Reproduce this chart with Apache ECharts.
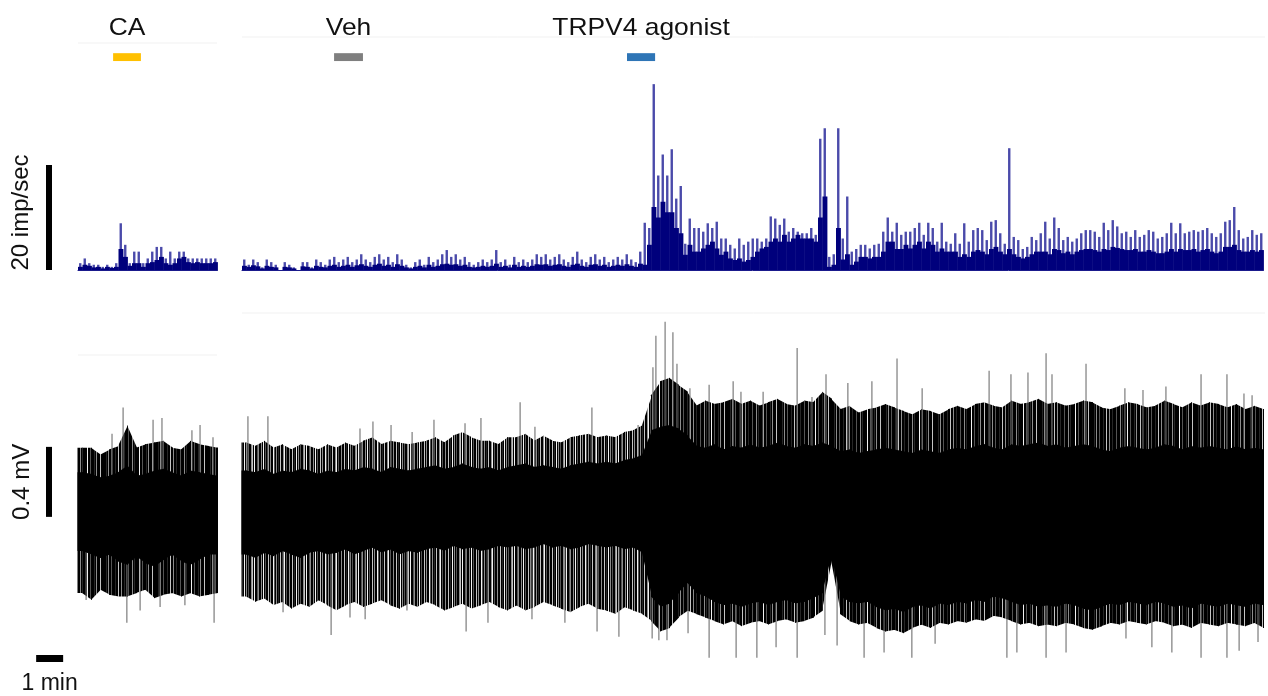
<!DOCTYPE html>
<html><head><meta charset="utf-8">
<script src="https://cdn.jsdelivr.net/npm/echarts@6/dist/echarts.min.js"></script>
<style>html,body{margin:0;padding:0;background:#fff}#c{width:1268px;height:696px}</style>
</head><body><div id="c"></div>
<script>
// ---------- time bins (minutes) ----------
const RATE_BIN = 1/6;   // 10 s bins of the firing-rate histogram
const VOLT_BIN = 1/3;   // 20 s bins of the voltage envelope

// ---------- firing rate (imp/sec), left panel (CA) ----------
const rateTipsL = [1.3,2.2,1.3,1,1,0.6,1,0.6,1.3,8.9,4.8,1.3,3.5,3.5,1.3,2.2,3.5,4.4,4.4,2.2,3.5,2.2,3.5,3.5,2.2,2.2,2.2,2.2,2.2,2.2,2.2];
const rateCoreL = [0.6,1,0.8,0.5,0.6,0.3,0.6,0.4,0.6,4,2.5,0.8,1.3,1.3,0.6,1.3,1.5,1.9,2.5,1.3,1,1.3,2.2,2.5,1.5,1.3,1.5,1.3,1.3,1.3,1.5];

// ---------- firing rate (imp/sec), right panel (Veh, TRPV4 agonist) ----------
const rateTipsR = [
 2,1,2,1.5,0.5,2,1.5,1, 0,1.5,1,0.5,0,1.5, 1.5,0.5,2,1.5, 1,2,2.5,1.5,2,2.5,1.5,2,3,2,1.5,
 2.5,3,2,2.5,1.5,3,2,1,0.5, 1.5,2,1,2.5,1.5,2,3,3.8, 2.5,3,2,2.5,1.5, 1,1.5,2,1.5,2,3.8,
 1.5,2,1,2.5,1.5,2,1.5,2,3, 2.5,3,2,2.5,3,2,1.5,2.5,3.5, 2,1.5,2.5,3,2,2.5,1.5,2, 2.5,2,3,2,1.5,3.5,
 9,8,35.4,18,22,18,23,13.6,16,5,9.8,8,8,7.3,8.9,8,9.2,6,6,4.8,4.1,6,4.8,5.4,6,6,5.4,6,10.2,9.8,8.6,9.8,
 7.3,8,7.3,7,7,8,6.7,25,27,2.5,3,27,6,14,3.5,4,4.8,4.8,4.1,4.8,5,7.3,10,7.3,9,6.7,7.3,7.3,8,9,6.7,9,8,5.4,9,5.4,5,7,
 5,8.9,5.4,7.6,8,7.6,5.7,9.2,9.5,7,5,23.2,6.3,5.7,4,4.4,6.3,5.7,7,9.2,6,10,8,5.7,6.3,5.4,6,7,7.6,7.6,7.3,6.3,9,7.6,
 9.5,8.3,7,7.3,6.3,7.6,6.3,6.7,7.6,7.3,6,6.3,7,9,7,8.9,7,7.3,7.6,7.3,7.6,8,7,6.3,7,9.2,9.5,12,7.6,6,6.3,7.6,6.7,7
];
const rateCoreR = [
 0.8,0.6,0.9,0.7,0.3,0.8,0.6,0.5, 0,0.6,0.5,0.3,0,0.7, 0.6,0.3,0.8,0.6, 0.5,0.8,1,0.6,0.8,1,0.6,0.9,1.1,0.8,0.6,
 1,1.2,0.8,1,0.6,1.1,0.8,0.5,0.3, 0.6,0.8,0.5,1,0.6,0.8,1.1,1.2, 1,1.1,0.8,1,0.6, 0.5,0.6,0.8,0.6,0.8,1.2,
 0.6,0.8,0.5,1,0.6,0.8,0.6,0.8,1.1, 1,1.1,0.8,1,1.1,0.8,0.6,1,1.2, 0.8,0.6,1,1.1,0.8,1,0.6,0.8, 1,0.8,1.1,0.8,0.6,1.2,
 1,4.8,12,10,13,11,11,8,7,2.9,4.8,3.5,3.5,4.1,4.8,5.4,4.1,2.9,3.5,2.2,1.9,2.2,1.6,1.9,2.5,3.5,4.1,4.4,5.4,6,5.4,6.7,
 5.4,6,6.7,6,6,6,5.4,10,14,0.6,1,8,2,3,1,1.6,2.5,2.5,2.2,2.5,2.5,3.5,5.4,5.4,4,4,4.8,4.1,4.8,5.4,4.1,5.4,4.8,3.5,4.1,3.5,3.5,3.5,
 2.5,3,2.5,3.5,3.8,3.5,3,4,4.4,3.5,3,4,3,2.5,2.2,2.5,3,3.5,3.5,3.5,3,4,3.8,3.2,3.5,3,3.5,3.8,4,4,3.8,3.5,4,3.8,
 4.4,4.2,4,3.8,3.8,4,3.5,3.5,3.8,3.5,3.2,3.2,3.5,4,3.5,4,3.8,3.8,4,3.5,3.8,4,3.5,3.2,3.5,4.4,4.4,4.8,3.8,3.5,3.5,3.8,3.5,3.8
];

// ---------- voltage envelope (mV), left panel ----------
const fuzzTopL = [0.33,0.33,0.29,0.32,0.34,0.46,0.33,0.35,0.36,0.37,0.33,0.32,0.37,0.35,0.34,0.33];
const coreTopL = [0.19,0.18,0.16,0.17,0.19,0.23,0.17,0.18,0.20,0.21,0.19,0.17,0.20,0.19,0.18,0.17];
const coreBotL = [-0.26,-0.28,-0.30,-0.28,-0.32,-0.34,-0.29,-0.33,-0.35,-0.31,-0.28,-0.32,-0.34,-0.31,-0.28,-0.28];
const fuzzBotL = [-0.50,-0.54,-0.48,-0.51,-0.52,-0.52,-0.50,-0.48,-0.53,-0.51,-0.50,-0.52,-0.50,-0.52,-0.51,-0.50];

// ---------- voltage envelope (mV), right panel ----------
const fuzzTopR = [
 0.36,0.34,0.37,0.33,0.35,0.32,0.35,0.34,0.32,0.35, 0.33,0.36,0.34,0.37,0.39,0.35,0.37,0.36,0.35,0.36,
 0.37,0.39,0.36,0.40,0.42,0.39,0.37,0.37,0.35,0.39, 0.39,0.41,0.37,0.40,0.37,0.36,0.39,0.40,0.41,0.39,
 0.40,0.39,0.42,0.43,0.46,0.63,0.71,0.73,0.69,0.65, 0.57,0.60,0.58,0.59,0.61,0.58,0.60,0.57,0.59,0.61,
 0.58,0.57,0.60,0.59,0.65,0.61,0.55,0.57,0.53,0.55, 0.56,0.58,0.56,0.54,0.52,0.55,0.54,0.52,0.55,0.57,
 0.55,0.58,0.59,0.57,0.56,0.60,0.58,0.59,0.61,0.58, 0.59,0.57,0.58,0.60,0.59,0.56,0.55,0.57,0.59,0.58,
 0.56,0.57,0.60,0.58,0.56,0.59,0.57,0.59,0.58,0.56, 0.58,0.55,0.57,0.55
];
const coreTopR = [
 0.20,0.19,0.21,0.18,0.20,0.19,0.21,0.20,0.18,0.20, 0.19,0.21,0.20,0.22,0.21,0.19,0.22,0.21,0.20,0.21,
 0.22,0.23,0.21,0.22,0.24,0.22,0.21,0.22,0.20,0.22, 0.23,0.24,0.22,0.23,0.22,0.21,0.23,0.24,0.25,0.24,
 0.25,0.24,0.26,0.27,0.29,0.43,0.45,0.46,0.44,0.40, 0.34,0.33,0.35,0.32,0.34,0.33,0.35,0.33,0.34,0.36,
 0.34,0.33,0.35,0.34,0.36,0.34,0.31,0.32,0.30,0.31, 0.32,0.33,0.32,0.31,0.30,0.32,0.31,0.30,0.32,0.33,
 0.32,0.34,0.35,0.33,0.32,0.35,0.34,0.35,0.36,0.34, 0.35,0.33,0.34,0.35,0.34,0.32,0.31,0.33,0.34,0.33,
 0.32,0.33,0.35,0.34,0.32,0.34,0.33,0.34,0.33,0.32, 0.34,0.32,0.33,0.32
];
const coreBotR = [
 -0.28,-0.30,-0.27,-0.29,-0.26,-0.28,-0.30,-0.27,-0.26,-0.28, -0.27,-0.25,-0.28,-0.26,-0.24,-0.27,-0.25,-0.28,-0.26,-0.27,
 -0.25,-0.24,-0.26,-0.23,-0.25,-0.24,-0.26,-0.25,-0.23,-0.24, -0.23,-0.25,-0.24,-0.22,-0.24,-0.23,-0.25,-0.24,-0.22,-0.23,
 -0.24,-0.23,-0.25,-0.24,-0.27,-0.52,-0.58,-0.56,-0.50,-0.44, -0.50,-0.52,-0.55,-0.57,-0.56,-0.58,-0.56,-0.55,-0.57,-0.55,
 -0.54,-0.56,-0.55,-0.53,-0.50,-0.28,-0.52,-0.55,-0.56,-0.55, -0.58,-0.60,-0.59,-0.61,-0.58,-0.57,-0.59,-0.56,-0.57,-0.55,
 -0.56,-0.54,-0.55,-0.52,-0.53,-0.55,-0.57,-0.56,-0.58,-0.57, -0.58,-0.56,-0.57,-0.59,-0.60,-0.58,-0.56,-0.57,-0.55,-0.56,
 -0.57,-0.55,-0.56,-0.58,-0.57,-0.59,-0.56,-0.57,-0.58,-0.56, -0.57,-0.58,-0.56,-0.57
];
const fuzzBotR = [
 -0.52,-0.55,-0.53,-0.57,-0.55,-0.59,-0.56,-0.58,-0.54,-0.57, -0.60,-0.57,-0.55,-0.58,-0.56,-0.54,-0.57,-0.59,-0.56,-0.58,
 -0.55,-0.57,-0.60,-0.58,-0.56,-0.59,-0.57,-0.55,-0.58,-0.60, -0.57,-0.60,-0.58,-0.55,-0.57,-0.59,-0.61,-0.58,-0.56,-0.59,
 -0.60,-0.62,-0.58,-0.60,-0.62,-0.66,-0.72,-0.70,-0.64,-0.60, -0.62,-0.64,-0.66,-0.68,-0.66,-0.69,-0.67,-0.66,-0.68,-0.66,
 -0.65,-0.67,-0.66,-0.64,-0.60,-0.31,-0.62,-0.66,-0.68,-0.67, -0.70,-0.72,-0.71,-0.73,-0.70,-0.68,-0.70,-0.67,-0.68,-0.66,
 -0.67,-0.65,-0.66,-0.63,-0.64,-0.66,-0.68,-0.67,-0.69,-0.68, -0.69,-0.67,-0.68,-0.70,-0.71,-0.69,-0.67,-0.68,-0.66,-0.67,
 -0.68,-0.66,-0.67,-0.69,-0.68,-0.70,-0.67,-0.68,-0.69,-0.67, -0.68,-0.69,-0.67,-0.70
];

// ---------- isolated large spikes [minute, mV] ----------
const spikesL = [[1.67,0.56],[1.26,0.41],[2.78,0.49],[3.11,0.50],[4.52,0.46],[4.22,0.43],[5.0,0.39],
 [1.81,-0.67],[5.04,-0.67],[0.30,-0.54],[2.30,-0.60],[3.04,-0.58],[3.96,-0.57]];
const spikesR = [[0.22,0.51],[0.96,0.51],[4.37,0.44],[4.85,0.48],[5.52,0.46],[6.30,0.42],[7.11,0.49],[8.26,0.47],
 [8.85,0.50],[10.30,0.59],[10.85,0.45],[12.96,0.56],[14.67,0.46],[15.22,0.79],[15.33,0.97],[15.67,1.05],[15.96,0.99],
 [16.11,0.81],[16.59,0.67],[17.30,0.69],[18.19,0.71],[18.48,0.65],[19.30,0.65],[20.56,0.90],[21.11,0.62],[21.63,0.75],
 [22.44,0.70],[23.33,0.71],[24.26,0.84],[25.19,0.67],[27.67,0.77],[28.48,0.75],[29.11,0.76],[29.78,0.87],[30.00,0.75],
 [31.26,0.81],[32.70,0.67],[33.37,0.66],[34.22,0.68],[35.52,0.75],[36.48,0.75],[37.11,0.64],[37.41,0.63],
 [1.52,-0.61],[3.30,-0.74],[4.00,-0.64],[4.56,-0.65],[6.11,-0.60],[8.30,-0.72],[9.11,-0.67],[10.74,-0.65],[11.96,-0.67],
 [13.15,-0.72],[13.96,-0.75],[15.19,-0.76],[15.44,-0.77],[15.74,-0.77],[16.52,-0.73],[17.30,-0.87],[18.30,-0.87],
 [19.07,-0.87],[19.78,-0.81],[20.56,-0.87],[21.59,-0.74],[22.04,-0.80],[23.04,-0.87],[23.78,-0.84],[24.81,-0.87],
 [25.67,-0.79],[28.33,-0.87],[28.70,-0.84],[29.78,-0.87],[30.52,-0.84],[32.74,-0.76],[33.70,-0.81],[34.44,-0.84],
 [35.52,-0.87],[36.48,-0.87],[36.93,-0.83],[37.63,-0.78]];

// ---------- treatments ----------
const treatLabels = ['CA','Veh','TRPV4 agonist'];
const treatPanel  = [0,1,1];
const treatStart  = [1.30,3.41,14.26];
const treatEnd    = [2.33,4.48,15.30];

// ---------- scale bars ----------
const SCALE_RATE = 20;   // imp/sec
const SCALE_MV = 0.4;    // mV
const SCALE_MIN = 1;     // min

// ================= build =================
const FONT = '"Liberation Sans", Arial, sans-serif';
const treatColors = ['#FFC000','#7F7F7F','#2E75B6'];
const totalL = rateTipsL.length * RATE_BIN;
const totalR = rateTipsR.length * RATE_BIN;

// striped textures imitating the dense trace lines (style only)
function stripePattern(code){
  const pal = {k:'#000', d:'#262626', m:'#555', g:'#8c8c8c', l:'#c4c4c4', w:'#f2f2f2'};
  const c = document.createElement('canvas'); c.width = code.length; c.height = 2;
  const g = c.getContext('2d');
  for(let i=0;i<code.length;i++){ g.fillStyle = pal[code[i]]; g.fillRect(i,0,1,2); }
  return {image:c, repeat:'repeat'};
}
const fuzzDark  = stripePattern('kkdkgkkmkkkdkklkkgkkdkkkmkkkgkdkkkkwkkmkkkdkgkkklkkk');
const fuzzLight = stripePattern('kgkwkmkklkgkkwmkgkdklkkgwkmkkgkklkdkwkgkmkkglkwkkmgk');

function rateData(tips, core){ return tips.map((v,i)=>[i, v, core[i]]); }
function rateItem(params, api){
  const i = api.value(0), tip = api.value(1), core = api.value(2);
  const t0 = i*RATE_BIN, t1 = (i+1)*RATE_BIN;
  const b0 = api.coord([t0,0]), b1 = api.coord([t1,0]);
  const pt = api.coord([(t0+t1)/2, tip]);
  const pc = api.coord([t0, core]);
  return {type:'group', children:[
    {type:'rect', shape:{x:pt[0]-1.2, y:pt[1], width:2.4, height:b0[1]-pt[1]}, style:{fill:'#4a4aaa'}},
    {type:'rect', shape:{x:b0[0], y:pc[1], width:b1[0]-b0[0]+0.4, height:b0[1]-pc[1]}, style:{fill:'#00007c'}}
  ]};
}
function bandData(top, bot, total){
  const ts=[0], tv=[top[0]], bv=[bot[0]];
  for(let i=0;i<top.length;i++){ ts.push(Math.min((i+0.5)*VOLT_BIN,total)); tv.push(top[i]); bv.push(bot[i]); }
  ts.push(total); tv.push(top[top.length-1]); bv.push(bot[bot.length-1]);
  const out=[];
  for(let k=0;k<ts.length-1;k++) out.push([ts[k],ts[k+1],tv[k],tv[k+1],bv[k],bv[k+1]]);
  return out;
}
function bandItem(kind){
  return function(params, api){
    const t0 = api.value(0), t1 = api.value(1);
    const a = api.coord([t0, api.value(2)]);
    const b = api.coord([t1, api.value(3)]);
    const c = api.coord([t1, api.value(5)]);
    const d = api.coord([t0, api.value(4)]);
    a[0]-=0.5; d[0]-=0.5; b[0]+=0.5; c[0]+=0.5;
    let fill = '#000';
    if(kind==='fuzzL') fill = fuzzDark;
    if(kind==='fuzzR') fill = (t1 <= 15.2) ? fuzzLight : fuzzDark;
    return {type:'polygon', shape:{points:[a,b,c,d]}, style:{fill:fill}};
  };
}
function spikeItem(params, api){
  const p0 = api.coord([api.value(0), 0]);
  const p1 = api.coord([api.value(0), api.value(1)]);
  return {type:'line', shape:{x1:p0[0], y1:p0[1], x2:p1[0], y2:p1[1]}, style:{stroke:'#707070', lineWidth:1.1}};
}
function treatItem(params, api){
  const k = api.value(2);
  const a = api.coord([api.value(0), 41.3]);
  const b = api.coord([api.value(1), 39.8]);
  const cx = (a[0]+b[0])/2;
  return {type:'group', children:[
    {type:'rect', shape:{x:a[0], y:a[1], width:b[0]-a[0], height:b[1]-a[1]}, style:{fill:treatColors[k]}},
    {type:'text', x:cx, y:a[1]-25, scaleX:1.1, style:{text:treatLabels[k], x:0, y:0, align:'center', verticalAlign:'middle', fill:'#111', font:'24px '+FONT}}
  ]};
}
function treatData(panel){
  const out=[];
  treatLabels.forEach((l,k)=>{ if(treatPanel[k]===panel) out.push([treatStart[k], treatEnd[k], k]); });
  return out;
}

const chart = echarts.init(document.getElementById('c'), null, {renderer:'canvas'});
const gridsL = 78, gridsR = 242, pxPerMin = 27;
const rateAxisLine = {show:true, lineStyle:{color:'#1a1a8c', width:1}};
const option = {
  animation:false,
  backgroundColor:'#fff',
  grid:[
    {left:gridsL, top:39, width:totalL*pxPerMin, height:231},
    {left:gridsR, top:39, width:totalR*pxPerMin, height:231},
    {left:gridsL, top:313, width:totalL*pxPerMin, height:350},
    {left:gridsR, top:313, width:totalR*pxPerMin, height:350}
  ],
  xAxis:[
    {gridIndex:0, type:'value', min:0, max:totalL, axisLine:rateAxisLine, axisTick:{show:false}, axisLabel:{show:false}, splitLine:{show:false}},
    {gridIndex:1, type:'value', min:0, max:totalR, axisLine:rateAxisLine, axisTick:{show:false}, axisLabel:{show:false}, splitLine:{show:false}},
    {gridIndex:2, type:'value', min:0, max:totalL, show:false},
    {gridIndex:3, type:'value', min:0, max:totalR, show:false}
  ],
  yAxis:[
    {gridIndex:0, type:'value', min:0, max:44, show:false},
    {gridIndex:1, type:'value', min:0, max:44, show:false},
    {gridIndex:2, type:'value', min:-0.9, max:1.1, show:false},
    {gridIndex:3, type:'value', min:-0.9, max:1.1, show:false}
  ],
  series:[
    {type:'custom', xAxisIndex:0, yAxisIndex:0, renderItem:rateItem, data:rateData(rateTipsL, rateCoreL), silent:true},
    {type:'custom', xAxisIndex:1, yAxisIndex:1, renderItem:rateItem, data:rateData(rateTipsR, rateCoreR), silent:true},
    {type:'custom', xAxisIndex:0, yAxisIndex:0, renderItem:treatItem, data:treatData(0), clip:false, silent:true},
    {type:'custom', xAxisIndex:1, yAxisIndex:1, renderItem:treatItem, data:treatData(1), clip:false, silent:true},
    {type:'custom', xAxisIndex:2, yAxisIndex:2, renderItem:bandItem('fuzzL'), data:bandData(fuzzTopL, fuzzBotL, totalL), silent:true},
    {type:'custom', xAxisIndex:3, yAxisIndex:3, renderItem:bandItem('fuzzR'), data:bandData(fuzzTopR, fuzzBotR, totalR), silent:true},
    {type:'custom', xAxisIndex:2, yAxisIndex:2, renderItem:spikeItem, data:spikesL, silent:true},
    {type:'custom', xAxisIndex:3, yAxisIndex:3, renderItem:spikeItem, data:spikesR, silent:true},
    {type:'custom', xAxisIndex:2, yAxisIndex:2, renderItem:bandItem('core'), data:bandData(coreTopL, coreBotL, totalL), silent:true},
    {type:'custom', xAxisIndex:3, yAxisIndex:3, renderItem:bandItem('core'), data:bandData(coreTopR, coreBotR, totalR), silent:true}
  ]
};
chart.setOption(option);

// scale bars, sized through the axes
const r0 = chart.convertToPixel({gridIndex:0}, [0,0]);
const r1 = chart.convertToPixel({gridIndex:0}, [0,SCALE_RATE]);
const v0 = chart.convertToPixel({gridIndex:2}, [0,-0.065]);
const v1 = chart.convertToPixel({gridIndex:2}, [0,-0.065+SCALE_MV]);
const m0 = chart.convertToPixel({gridIndex:2}, [-1.55,0]);
const m1 = chart.convertToPixel({gridIndex:2}, [-1.55+SCALE_MIN,0]);
const faint = '#f1f1f1';
chart.setOption({graphic:[
  {type:'line', shape:{x1:gridsR, y1:37, x2:1265, y2:37}, style:{stroke:faint, lineWidth:1}},
  {type:'line', shape:{x1:gridsL, y1:43, x2:217, y2:43}, style:{stroke:faint, lineWidth:1}},
  {type:'line', shape:{x1:gridsR, y1:313, x2:1265, y2:313}, style:{stroke:faint, lineWidth:1}},
  {type:'line', shape:{x1:gridsL, y1:355, x2:217, y2:355}, style:{stroke:faint, lineWidth:1}},
  {type:'rect', shape:{x:46, y:r1[1], width:6, height:r0[1]-r1[1]}, style:{fill:'#000'}},
  {type:'rect', shape:{x:46, y:v1[1], width:6, height:v0[1]-v1[1]}, style:{fill:'#000'}},
  {type:'rect', shape:{x:m0[0], y:655, width:m1[0]-m0[0], height:7}, style:{fill:'#000'}},
  {type:'text', x:21, y:(r0[1]+r1[1])/2 - 5, rotation:Math.PI/2, style:{text:SCALE_RATE+' imp/sec', x:0, y:0, align:'center', verticalAlign:'middle', fill:'#111', font:'24px '+FONT}},
  {type:'text', x:22, y:(v0[1]+v1[1])/2, rotation:Math.PI/2, style:{text:SCALE_MV+' mV', x:0, y:0, align:'center', verticalAlign:'middle', fill:'#111', font:'24px '+FONT}},
  {type:'text', x:(m0[0]+m1[0])/2, y:684, style:{text:SCALE_MIN+' min', x:0, y:0, align:'center', verticalAlign:'middle', fill:'#111', font:'23px '+FONT}}
]});
</script>
</body></html>
